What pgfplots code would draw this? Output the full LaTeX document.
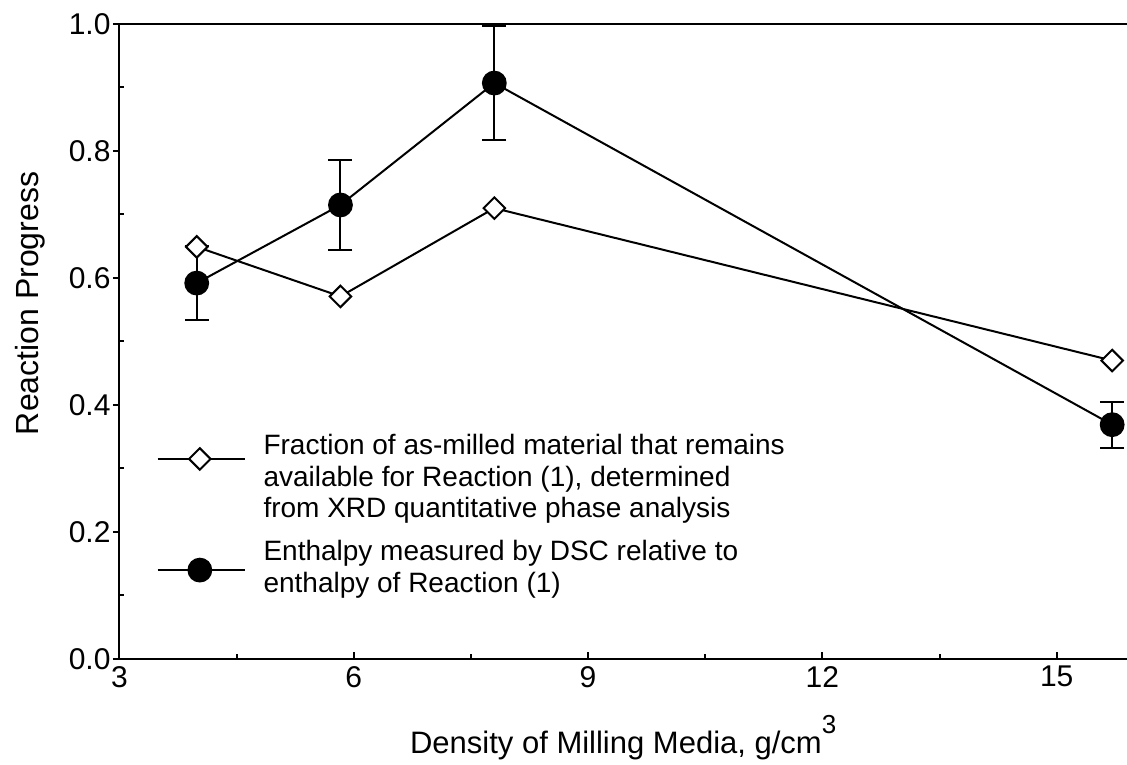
\documentclass[border=0pt]{standalone}
\usepackage{pgfplots}
\pgfplotsset{compat=1.18}
\usepackage{fontspec}
\setmainfont{Liberation Sans}
\begin{document}
\begin{tikzpicture}
\begin{axis}[
  scale only axis, width=503.8pt, height=317.5pt,
  xmin=3, xmax=15.90, ymin=0, ymax=1,
  axis x line=box, axis y line=left,
  axis line style={-, line width=1pt},
  xtick={3,6,9,12,15}, minor x tick num=1,
  ytick={0,0.2,0.4,0.6,0.8,1.0}, minor y tick num=1,
  xtick pos=bottom, ytick pos=left,
  tick align=inside, major tick length=3.25pt, minor tick length=2.25pt,
  every tick/.style={black, line width=1pt},
  every major y tick/.append style={xshift=-3.25pt},
  /pgf/number format/assume math mode=true,
  yticklabel style={inner xsep=1pt, xshift=-3.25pt, /pgf/number format/fixed, /pgf/number format/fixed zerofill, /pgf/number format/precision=1},
  tick label style={font=\fontsize{15}{17}\selectfont},
  xlabel={Density of Milling Media, g/cm\raisebox{0.62em}{\fontsize{13}{15}\selectfont 3}},
  ylabel={Reaction Progress},
  xlabel style={font=\fontsize{15.5}{18}\selectfont, at={(axis description cs:0.5,0)}, anchor=base, yshift=-47pt},
  ylabel style={font=\fontsize{16}{18}\selectfont, at={(axis description cs:-0.0887,0.56)}, anchor=center},
  clip=false,
]
% legend samples
\addplot[black, line width=1pt, mark=square*, mark options={rotate=45, fill=white, mark size=3.8pt}, mark indices={2}, forget plot]
  coordinates {(3.49,0.315) (4.03,0.315) (4.61,0.315)};
\addplot[black, line width=1pt, mark=*, mark options={fill=black, mark size=5.7pt}, mark indices={2}, forget plot]
  coordinates {(3.49,0.140) (4.03,0.140) (4.61,0.140)};
\node[anchor=north west, align=left, inner sep=0pt, font=\fontsize{14}{15.75}\selectfont] at (axis cs:4.84,0.354)
  {Fraction of as-milled material that remains\\available for Reaction (1), determined\\from XRD quantitative phase analysis};
\node[anchor=north west, align=left, inner sep=0pt, font=\fontsize{14}{15.75}\selectfont] at (axis cs:4.84,0.187)
  {Enthalpy measured by DSC relative to\\enthalpy of Reaction (1)};
% data
\addplot[black, line width=1pt, mark=square*, mark options={rotate=45, fill=white, mark size=3.8pt}]
  coordinates {(3.99,0.649) (5.83,0.571) (7.80,0.710) (15.71,0.470)};
\addplot[black, line width=1pt, mark=*, mark options={fill=black, mark size=5.7pt},
  error bars/.cd, y dir=both, y explicit,
  error bar style={line width=1pt},
  error mark options={rotate=90, mark size=6pt, line width=1pt}]
  coordinates {(3.99,0.592) +- (0,0.058) (5.83,0.715) +- (0,0.071) (7.80,0.907) +- (0,0.090) (15.71,0.369) +- (0,0.036)};
\end{axis}
\pgfresetboundingbox
\useasboundingbox ([xshift=-59.7pt,yshift=-52.5pt]current axis.south west) rectangle ([yshift=12pt]current axis.north east);
\end{tikzpicture}
\end{document}
